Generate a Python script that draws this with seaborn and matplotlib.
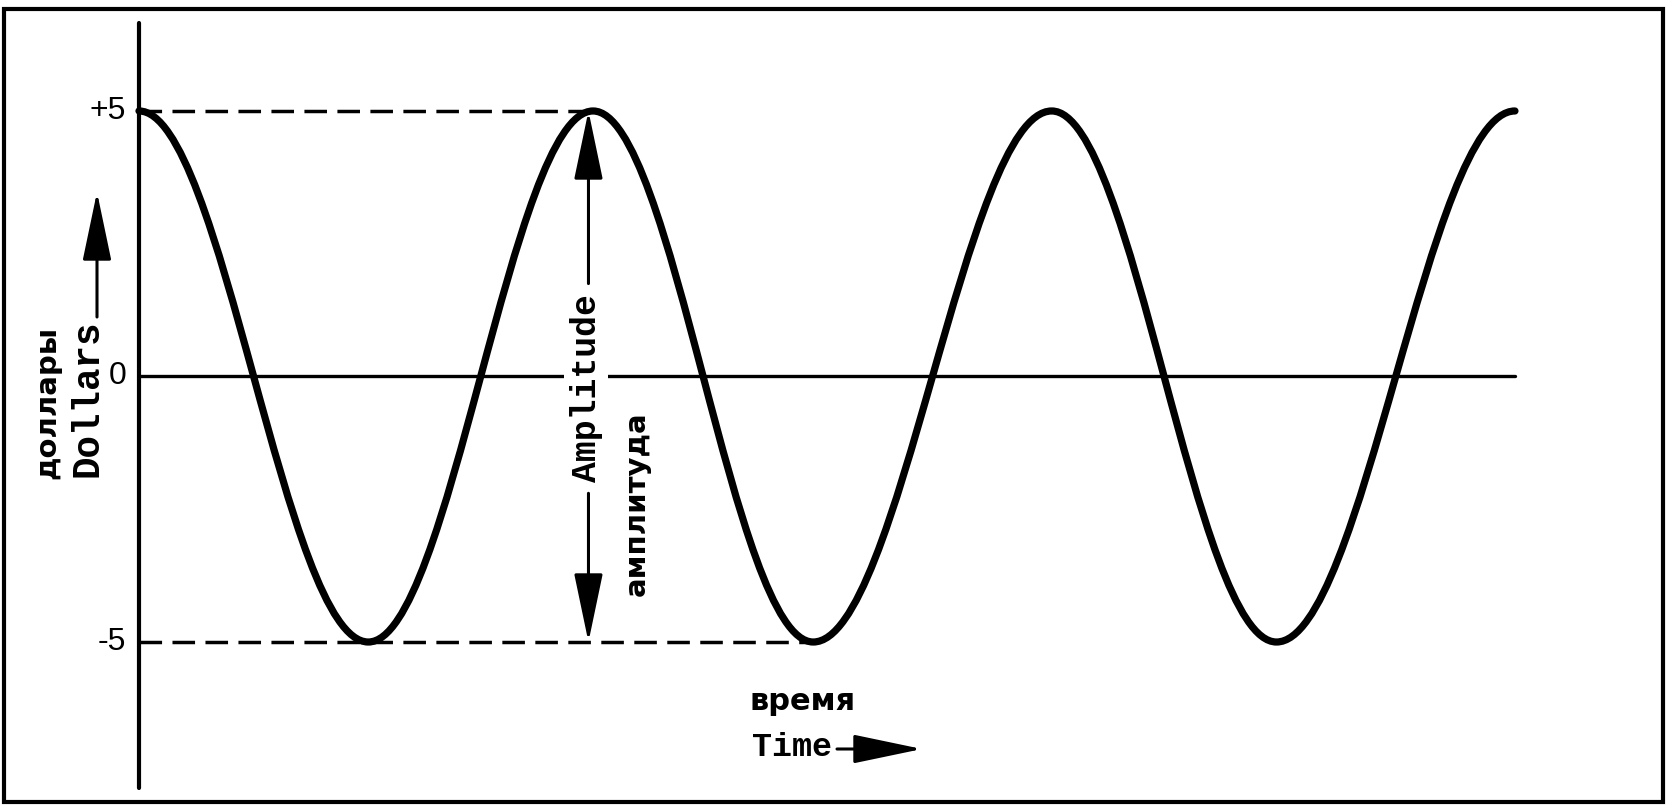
import numpy as np
import pandas as pd
import seaborn as sns
import matplotlib
matplotlib.use("Agg")
import matplotlib.pyplot as plt
from matplotlib.path import Path
from matplotlib.patches import PathPatch, Rectangle

# ---- data ----
extreme_times = [0.0, 0.50, 0.99, 1.47, 1.99, 2.48, 3.00]   # peaks / troughs (time units)
extreme_values = [5, -5, 5, -5, 5, -5, 5]                    # dollars
tick_values = [5, 0, -5]
tick_labels = ["+5", "0", "-5"]
amplitude = 5
label_dollars_en = "Dollars"
label_dollars_ru = "доллары"
label_time_en = "Time"
label_time_ru = "время"
label_amp_en = "Amplitude"
label_amp_ru = "амплитуда"

W, H = 1670, 808
sns.set_theme(style="white")
plt.rcParams["font.family"] = ["DejaVu Sans"]

fig = plt.figure(figsize=(W / 100, H / 100), dpi=100)
ax = fig.add_axes([0, 0, 1, 1])
ax.set_xlim(-0.303, 3.338)
ax.set_ylim(-8.126, 7.09)
ax.axis("off")

def fx(px):
    return px / W

def fy(py):
    return 1 - py / H

# ---- smooth wave through the extremes (cubic Bezier, horizontal tangents) ----
k = 1 - 2 / np.pi
verts = [(extreme_times[0], extreme_values[0])]
codes = [Path.MOVETO]
for i in range(1, len(extreme_times)):
    t0, v0 = extreme_times[i - 1], extreme_values[i - 1]
    t1, v1 = extreme_times[i], extreme_values[i]
    dt = t1 - t0
    verts += [(t0 + k * dt, v0), (t1 - k * dt, v1), (t1, v1)]
    codes += [Path.CURVE4] * 3
wave = PathPatch(Path(verts, codes), facecolor="none", edgecolor="black",
                 lw=5.2, capstyle="round", zorder=4)
ax.add_patch(wave)

# ---- zero line ----
zero_df = pd.DataFrame({"t": [extreme_times[0], extreme_times[-1]], "v": [0, 0]})
sns.lineplot(data=zero_df, x="t", y="v", ax=ax, color="black", lw=2.4,
             estimator=None, sort=False, zorder=2)

# ---- dashed guide lines at +5 and -5 ----
top_df = pd.DataFrame({"t": [extreme_times[0], extreme_times[2]],
                       "v": [amplitude, amplitude]})
bot_df = pd.DataFrame({"t": [extreme_times[0], extreme_times[3]],
                       "v": [-amplitude, -amplitude]})
for d in (top_df, bot_df):
    sns.lineplot(data=d, x="t", y="v", ax=ax, color="black", lw=2.5,
                 linestyle=(0, (6.5, 3)), estimator=None, sort=False, zorder=3)

# ---- vertical axis line ----
ax.axvline(0, ymin=(H - 788) / H, ymax=(H - 23) / H, color="black", lw=3, zorder=3)

# ---- tick labels ----
for v, lab in zip(tick_values, tick_labels):
    ax.text(-0.028, v, lab, ha="right", va="center", fontsize=23,
            family="Liberation Sans", color="black")

# ---- amplitude arrows & labels ----
amp_x = extreme_times[2] - 0.01
mono = "Liberation Mono"
ax.text(amp_x - 0.005, -0.22, label_amp_en, rotation=90, ha="center", va="center",
        fontsize=25, family=mono, fontweight="bold", color="black", zorder=5,
        bbox=dict(boxstyle="square,pad=0.15", fc="white", ec="none"))
ax.text(amp_x + 0.105, -2.4, label_amp_ru, rotation=90, ha="center", va="center",
        fontsize=21, family="DejaVu Sans", fontweight="bold", color="black")
arrow_kw = dict(arrowstyle="-|>,head_length=4.3,head_width=0.9", color="black",
                lw=2.2, mutation_scale=10, shrinkA=0, shrinkB=0)
ax.annotate("", xy=(amp_x, amplitude), xytext=(amp_x, 1.75), arrowprops=arrow_kw, zorder=6)
ax.annotate("", xy=(amp_x, -amplitude), xytext=(amp_x, -2.2), arrowprops=arrow_kw, zorder=6)

# ---- axis titles ----
fig.text(fx(87), fy(398), label_dollars_en, rotation=90, ha="center", va="center",
         fontsize=27, family=mono, fontweight="bold", color="black")
fig.text(fx(47), fy(402), label_dollars_ru, rotation=90, ha="center", va="center",
         fontsize=21, family="DejaVu Sans", fontweight="bold", color="black")
ax.annotate("", xy=(fx(97), fy(192)), xytext=(fx(97), fy(317)),
            xycoords="figure fraction", textcoords="figure fraction", arrowprops=arrow_kw)

fig.text(fx(803), fy(701), label_time_ru, ha="center", va="center",
         fontsize=22, family="DejaVu Sans", fontweight="bold", color="black")
fig.text(fx(792), fy(747), label_time_en, ha="center", va="center",
         fontsize=24, family=mono, fontweight="bold", color="black")
ax.annotate("", xy=(fx(922), fy(749)), xytext=(fx(837), fy(749)),
            xycoords="figure fraction", textcoords="figure fraction", arrowprops=arrow_kw)

# ---- outer frame ----
fig.patches.append(Rectangle((fx(4), fy(802)), fx(1663) - fx(4), fy(9) - fy(802),
                             transform=fig.transFigure, fill=False, lw=3,
                             edgecolor="black"))

fig.savefig("out.png", dpi=100, facecolor="white")
